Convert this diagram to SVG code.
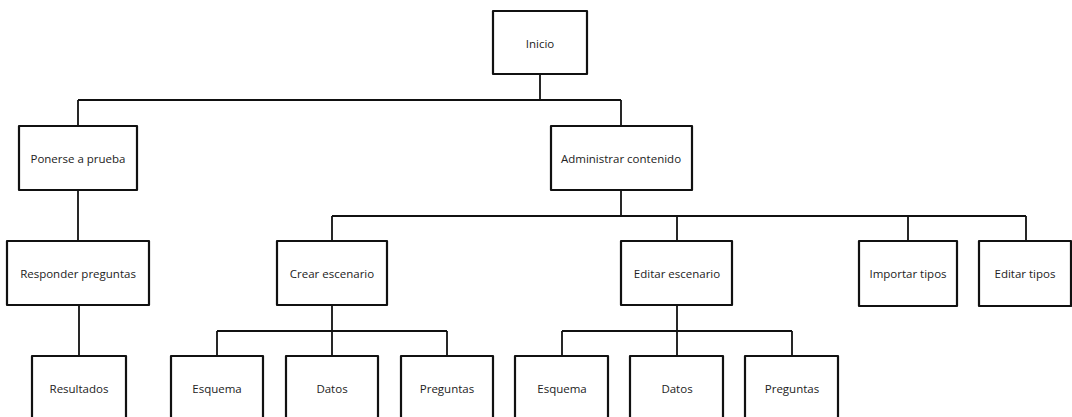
<svg xmlns="http://www.w3.org/2000/svg" width="1072" height="417" viewBox="0 0 1072 417">
  <style>
    .box { fill: #ffffff; stroke: #111111; stroke-width: 2.2; stroke-linejoin: round; }
    .lbl { font-family: "Open Sans", "Liberation Sans", sans-serif; font-size: 11.5px; fill: #222222; text-anchor: middle; dominant-baseline: central; }
    .wire { fill: none; stroke: #111111; stroke-width: 1.8; }
  </style>
  <rect width="1072" height="417" fill="#ffffff"/>

  <!-- tree connectors -->
  <g id="connectors" class="wire">
    <path d="M540 74 V100 M78 100 H621 M78 100 V126 M621 100 V126"/>
    <path d="M78 190 V241 M79 305 V356"/>
    <path d="M621 190 V216 M332 216 H1026 M332 216 V241 M677 216 V241 M908 216 V241 M1026 216 V241"/>
    <path d="M332 305 V331 M217 331 H447 M217 331 V356 M332 331 V356 M447 331 V356"/>
    <path d="M677 305 V331 M562 331 H792 M562 331 V356 M677 331 V356 M792 331 V356"/>
  </g>

  <g id="inicio"><rect class="box" x="493" y="11" width="94" height="63"/><text class="lbl" x="540" y="43">Inicio</text></g>

  <g id="ponerse-a-prueba"><rect class="box" x="19" y="126" width="118" height="64"/><text class="lbl" x="78" y="158">Ponerse a prueba</text></g>
  <g id="administrar-contenido"><rect class="box" x="551" y="126" width="141" height="64"/><text class="lbl" x="621" y="158">Administrar contenido</text></g>

  <g id="responder-preguntas"><rect class="box" x="7" y="241" width="142" height="64"/><text class="lbl" x="78" y="273">Responder preguntas</text></g>
  <g id="crear-escenario"><rect class="box" x="277" y="241" width="110" height="64"/><text class="lbl" x="332" y="273">Crear escenario</text></g>
  <g id="editar-escenario"><rect class="box" x="621" y="241" width="111" height="64"/><text class="lbl" x="677" y="273">Editar escenario</text></g>
  <g id="importar-tipos"><rect class="box" x="859" y="241" width="98" height="65"/><text class="lbl" x="908" y="273">Importar tipos</text></g>
  <g id="editar-tipos"><rect class="box" x="979" y="241" width="92" height="65"/><text class="lbl" x="1025" y="273">Editar tipos</text></g>

  <g id="resultados"><rect class="box" x="32" y="356" width="94" height="66"/><text class="lbl" x="79" y="388">Resultados</text></g>
  <g id="crear-esquema"><rect class="box" x="171" y="356" width="92" height="66"/><text class="lbl" x="217" y="388">Esquema</text></g>
  <g id="crear-datos"><rect class="box" x="286" y="356" width="92" height="66"/><text class="lbl" x="332" y="388">Datos</text></g>
  <g id="crear-preguntas"><rect class="box" x="401" y="356" width="92" height="66"/><text class="lbl" x="447" y="388">Preguntas</text></g>
  <g id="editar-esquema"><rect class="box" x="515" y="356" width="93" height="66"/><text class="lbl" x="562" y="388">Esquema</text></g>
  <g id="editar-datos"><rect class="box" x="630" y="356" width="93" height="66"/><text class="lbl" x="677" y="388">Datos</text></g>
  <g id="editar-preguntas"><rect class="box" x="745" y="356" width="93" height="66"/><text class="lbl" x="792" y="388">Preguntas</text></g>
</svg>
